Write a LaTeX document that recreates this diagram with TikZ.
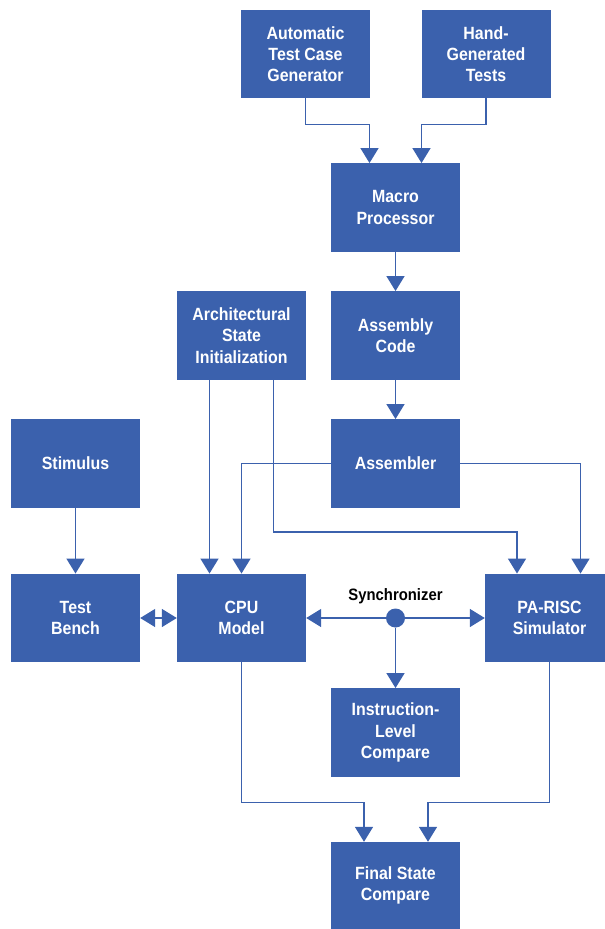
\documentclass[tikz,border=0pt]{standalone}
\usepackage{fontspec}
\setmainfont{Liberation Sans}[FakeStretch=0.9]
\usetikzlibrary{arrows.meta}
\definecolor{hpblue}{RGB}{59,97,173}
\begin{document}
\begin{tikzpicture}[x=1pt,y=-1pt,
  box/.style={fill=hpblue, draw=none, text=white,
    font=\fontsize{17.7}{21.2}\selectfont\bfseries, align=center, inner sep=0pt,
    minimum width=129pt, minimum height=88.5pt},
  conn/.style={draw=hpblue, line width=1.5pt,
    -{Triangle[width=18pt,length=15pt]}},
  both/.style={draw=hpblue, line width=1.5pt,
    {Triangle[width=18pt,length=15pt]}-{Triangle[width=18pt,length=15pt]}},
  lbl/.style={font=\fontsize{16.5}{20}\selectfont\bfseries, text=black, inner sep=0pt}]
\useasboundingbox (0,0) rectangle (605,929);

\node[box] (atcg) at (305.5,54) {Automatic\\Test Case\\Generator};
\node[box] (hgt) at (486,54) {Hand-\\Generated\\Tests};
\node[box] (macro) at (395.5,207.5) {Macro\\Processor};
\node[box] (asmcode) at (395.5,335.5) {Assembly\\Code};
\node[box] (arch) at (241.5,335.5) {Architectural\\State\\Initialization};
\node[box] (assembler) at (395.5,463.5) {Assembler};
\node[box] (stim) at (75.5,463.5) {Stimulus};
\node[box] (tb) at (75.5,618) {Test\\Bench};
\node[box] (cpu) at (241.5,618) {CPU\\Model};
\node[box] (pa) at (549.5,618) {PA-RISC\\Simulator};
\node[box] (ilc) at (395.5,732.5) {Instruction-\\Level\\Compare};
\node[box, minimum height=87pt] (final) at (395.5,885.5) {Final State\\Compare};

\node[circle, fill=hpblue, minimum size=19pt, inner sep=0pt] (sync) at (395.5,618) {};
\node[lbl] (synclbl) at (395.5,596) {Synchronizer};

\draw[conn] (atcg.south) -- ++(0,26) -| ([xshift=-26pt]macro.north);
\draw[conn] (hgt.south) -- ++(0,26) -| ([xshift=26pt]macro.north);
\draw[conn] (macro.south) -- (asmcode.north);
\draw[conn] (asmcode.south) -- (assembler.north);
\draw[conn] (assembler.west) -| (cpu.north);
\draw[conn] (assembler.east) -| ([xshift=31pt]pa.north);
\draw[conn] ([xshift=-32pt]arch.south) -- ([xshift=-32pt]cpu.north);
\draw[conn] ([xshift=32pt]arch.south) -- ++(0,152) -| ([xshift=-32.5pt]pa.north);
\draw[conn] (stim.south) -- (tb.north);
\draw[both] (tb.east) -- (cpu.west);
\draw[conn] (sync) -- (cpu.east);
\draw[conn] (sync) -- (pa.west);
\draw[conn] (sync) -- (ilc.north);
\draw[conn] (cpu.south) -- ++(0,140) -| ([xshift=-31.5pt]final.north);
\draw[conn] (pa.south) -- ++(0,140) -| ([xshift=32.5pt]final.north);
\end{tikzpicture}
\end{document}
